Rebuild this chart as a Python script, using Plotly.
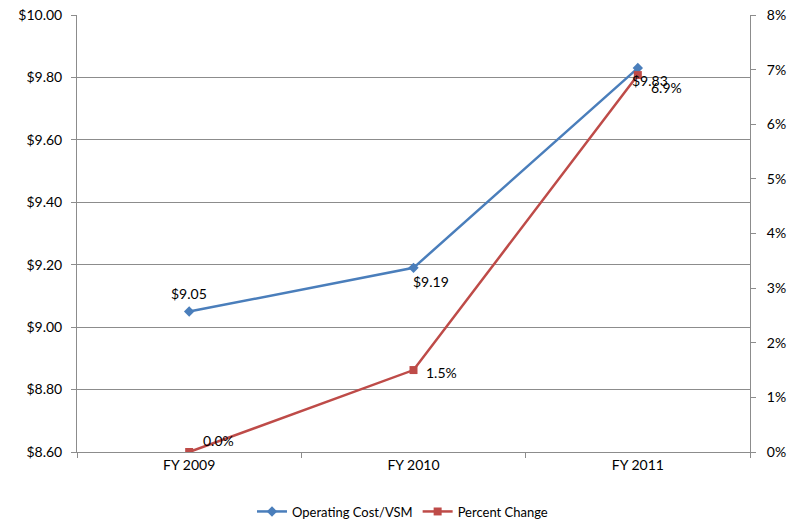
import plotly.graph_objects as go

# Fiscal years and the two measured series
years = ["FY 2009", "FY 2010", "FY 2011"]
cost_per_vsm = [9.05, 9.19, 9.83]
pct_change = [0.000, 0.015, 0.069]

cost_labels = ["$9.05", "$9.19", "$9.83"]
pct_labels = ["0.0%", "1.5%", "6.9%"]

BLUE = "#4a7ebb"
RED = "#be4b48"
GRID = "#8c8c8c"
FONT = "Lato, 'Open Sans', sans-serif"

fig = go.Figure()

fig.add_trace(go.Scatter(
    x=years, y=cost_per_vsm, name="Operating Cost/VSM",
    mode="lines+markers",
    line=dict(color=BLUE, width=2.5),
    marker=dict(symbol="diamond", size=8, color=BLUE),
    yaxis="y",
))
fig.add_trace(go.Scatter(
    x=years, y=pct_change, name="Percent Change",
    mode="lines+markers",
    line=dict(color=RED, width=2.5),
    marker=dict(symbol="square", size=8, color=RED),
    yaxis="y2",
))

# Data labels placed around each point
cost_offsets = [(0, 8, "center", "bottom"), (-3, -3, "left", "top"), (-8, -2, "left", "top")]
for x, y, t, (dx, dy, xa, ya) in zip(years, cost_per_vsm, cost_labels, cost_offsets):
    fig.add_annotation(x=x, y=y, xref="x", yref="y", text=t, showarrow=False,
                       xanchor=xa, yanchor=ya, xshift=dx, yshift=dy,
                       font=dict(family=FONT, size=14, color="#000000"))

pct_offsets = [(12, 1, "left", "bottom"), (10, -2, "left", "middle"), (11, -2, "left", "top")]
for x, y, t, (dx, dy, xa, ya) in zip(years, pct_change, pct_labels, pct_offsets):
    fig.add_annotation(x=x, y=y, xref="x", yref="y2", text=t, showarrow=False,
                       xanchor=xa, yanchor=ya, xshift=dx, yshift=dy,
                       font=dict(family=FONT, size=14, color="#000000"))

fig.update_layout(
    width=797, height=523,
    margin=dict(l=77, r=47, t=15, b=71, autoexpand=False),
    paper_bgcolor="white", plot_bgcolor="white",
    font=dict(family=FONT, size=14, color="#000000"),
    showlegend=True,
    legend=dict(orientation="h", x=0.505, xanchor="center", xref="container",
                y=0.022, yanchor="middle", yref="container",
                font=dict(size=13), itemwidth=30, tracegroupgap=0),
    xaxis=dict(
        type="category", range=[-0.5, 2.5], automargin=False,
        showline=True, linecolor=GRID, linewidth=1,
        ticks="outside", ticklen=5, tickcolor=GRID, tickson="boundaries",
        showgrid=False, tickfont=dict(size=14),
    ),
    yaxis=dict(
        range=[8.6, 10.0], dtick=0.2, tick0=8.6, automargin=False,
        tickprefix="$", tickformat=".2f",
        showline=True, linecolor=GRID, linewidth=1,
        ticks="outside", ticklen=5, tickcolor=GRID,
        showgrid=True, gridcolor=GRID, gridwidth=1,
        zeroline=False, tickfont=dict(size=14),
        ticklabelstandoff=6,
    ),
    yaxis2=dict(
        range=[0, 0.08], dtick=0.01, tick0=0, tickformat=".0%",
        overlaying="y", side="right", automargin=False,
        showline=True, linecolor=GRID, linewidth=1,
        ticks="outside", ticklen=5, tickcolor=GRID,
        showgrid=False, zeroline=False, tickfont=dict(size=14),
        ticklabelstandoff=8,
    ),
)

fig.write_html("out.html")
